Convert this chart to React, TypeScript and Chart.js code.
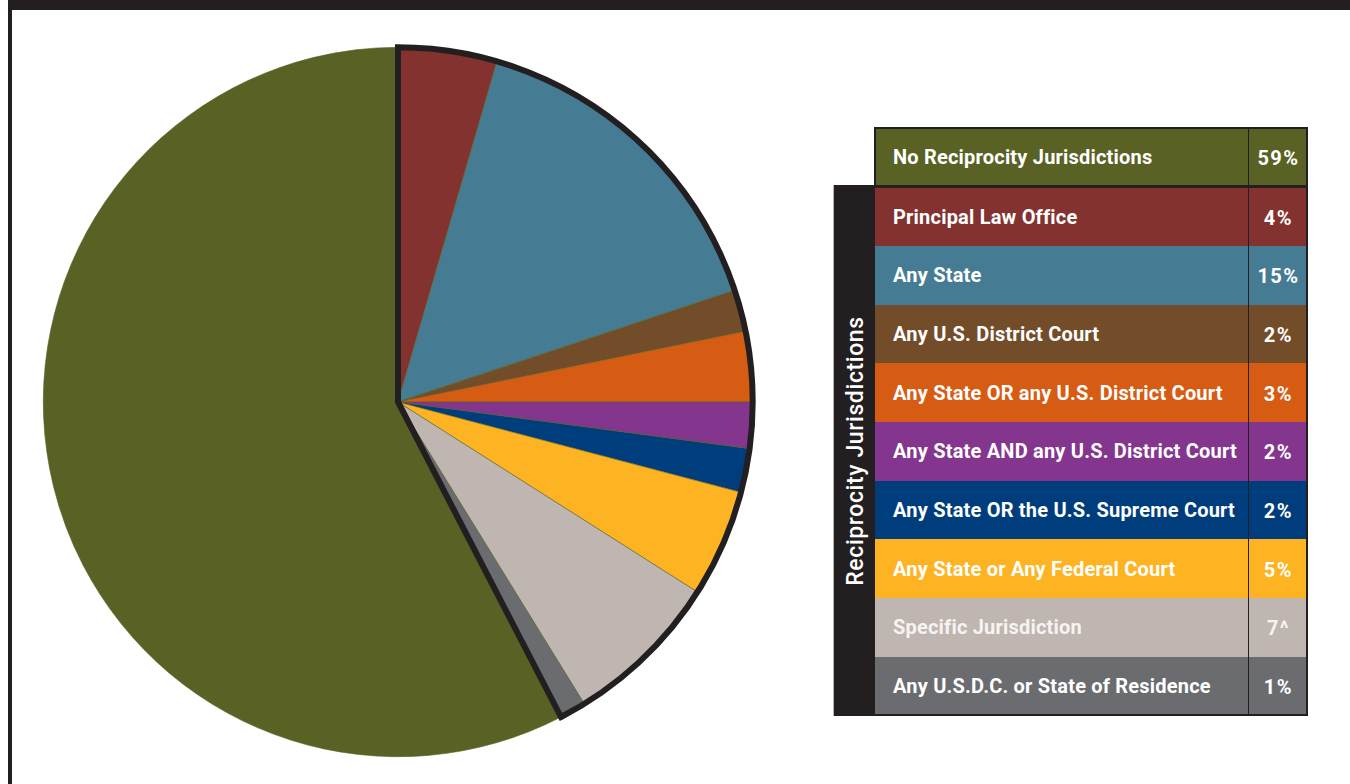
import React, { useEffect, useRef } from "react";
import { Chart, registerables } from "chart.js";

Chart.register(...registerables);

// Pie order (clockwise from 12 o'clock)
const categories = [
  "Principal Law Office",
  "Any State",
  "Any U.S. District Court",
  "Any State OR any U.S. District Court",
  "Any State AND any U.S. District Court",
  "Any State OR the U.S. Supreme Court",
  "Any State or Any Federal Court",
  "Specific Jurisdiction",
  "Any U.S.D.C. or State of Residence",
  "No Reciprocity Jurisdictions",
];
// slice shares estimated from the pie angles
const sliceValues = [4.5, 15.4, 1.9, 3.2, 2.1, 2.0, 4.9, 7.2, 1.2, 57.6];
// labels printed in the table
const pctLabels = ["4%", "15%", "2%", "3%", "2%", "2%", "5%", "7^", "1%", "59%"];
const colors = [
  "#84322f",
  "#467b94",
  "#734c29",
  "#d65c14",
  "#84368f",
  "#003d7c",
  "#feb322",
  "#bfb5b1",
  "#6b6c70",
  "#5a6124",
];
const textColors = ["#fff", "#fff", "#fff", "#fff", "#fff", "#fff", "#fff", "#f6f3f1", "#fff", "#fff"];
const groupTitle = "Reciprocity Jurisdictions";
const groupCount = 9; // first 9 slices are reciprocity jurisdictions

const DARK = "#231f20";

const outlinePlugin = {
  id: "groupOutline",
  afterDatasetsDraw(chart: any) {
    const meta = chart.getDatasetMeta(0);
    const first = meta.data[0] as any;
    const last = meta.data[groupCount - 1] as any;
    if (!first || !last) return;
    const ctx = chart.ctx;
    const { x, y, outerRadius } = first;
    ctx.save();
    ctx.beginPath();
    ctx.moveTo(x, y);
    ctx.arc(x, y, outerRadius, first.startAngle, last.endAngle);
    ctx.closePath();
    ctx.lineWidth = 6;
    ctx.lineJoin = "miter";
    ctx.strokeStyle = DARK;
    ctx.stroke();
    ctx.restore();
  },
};

function PieChart() {
  const ref = useRef<HTMLCanvasElement | null>(null);
  useEffect(() => {
    if (!ref.current) return;
    const chart = new Chart(ref.current, {
      type: "pie",
      data: {
        labels: categories,
        datasets: [
          {
            data: sliceValues,
            backgroundColor: colors,
            borderColor: "#5a6124",
            borderWidth: 0.6,
          },
        ],
      },
      options: {
        animation: false,
        responsive: false,
        maintainAspectRatio: false,
        layout: { padding: 4 },
        plugins: {
          legend: { display: false },
          tooltip: { enabled: false },
        },
      },
      plugins: [outlinePlugin],
    });
    return () => chart.destroy();
  }, []);
  return (
    <canvas
      ref={ref}
      width={718}
      height={718}
      style={{ position: "absolute", left: 39, top: 43, width: 718, height: 718 }}
    />
  );
}

const FONT = "Roboto, 'Liberation Sans', sans-serif";
const ROW_H = 58.7;
const TABLE_LEFT = 875;
const LABEL_W = 373;
const PCT_W = 59;

function Row({ i, top }: { i: number; top: number }) {
  return (
    <div
      style={{
        position: "absolute",
        left: TABLE_LEFT,
        top,
        width: LABEL_W + PCT_W,
        height: ROW_H,
        background: colors[i],
        color: textColors[i],
        fontFamily: FONT,
        fontWeight: 700,
        fontSize: 20,
        display: "flex",
        alignItems: "center",
      }}
    >
      <div
        style={{
          width: LABEL_W,
          paddingLeft: 18,
          boxSizing: "border-box",
          whiteSpace: "nowrap",
          letterSpacing: 0.2,
        }}
      >
        {categories[i]}
      </div>
      <div
        style={{
          width: PCT_W,
          height: "100%",
          borderLeft: `1.5px solid ${DARK}`,
          boxSizing: "border-box",
          display: "flex",
          alignItems: "center",
          justifyContent: "center",
          letterSpacing: 1.5,
          paddingLeft: 1,
          paddingTop: 2,
        }}
      >
        {pctLabels[i]}
      </div>
    </div>
  );
}

export default function App() {
  const noRecIdx = categories.length - 1;
  const topRow = 128;
  const groupTop = topRow + ROW_H + 0.5;
  const rows = [];
  for (let i = 0; i < groupCount; i++) {
    rows.push(<Row key={i} i={i} top={groupTop + i * ROW_H} />);
  }
  const groupBottom = groupTop + groupCount * ROW_H;
  return (
    <div style={{ position: "absolute", left: 0, top: 0, width: 1350, height: 784, overflow: "hidden", background: "#fff" }}>
      <div
        style={{
          position: "absolute",
          left: 8,
          top: 0,
          width: 1342,
          height: 784,
          borderTop: `10px solid ${DARK}`,
          borderLeft: `4px solid ${DARK}`,
          boxSizing: "border-box",
        }}
      />
      <PieChart />
      {/* vertical group band */}
      <div
        style={{
          position: "absolute",
          left: 833,
          top: groupTop - 2,
          width: 42,
          height: groupBottom - groupTop + 3,
          background: DARK,
          borderLeft: "1px solid #b8b4b4",
          boxSizing: "border-box",
        }}
      >
        <div
          style={{
            position: "absolute",
            left: "50%",
            top: "50%",
            transform: "translate(-50%, -50%) rotate(-90deg)",
            color: "#fff",
            fontFamily: FONT,
            fontWeight: 500,
            fontSize: 23,
            whiteSpace: "nowrap",
            letterSpacing: 0.6,
          }}
        >
          {groupTitle}
        </div>
      </div>
      <Row i={noRecIdx} top={topRow} />
      {rows}
      {/* table borders */}
      <div
        style={{
          position: "absolute",
          left: TABLE_LEFT - 1,
          top: topRow - 1,
          width: LABEL_W + PCT_W + 2,
          height: ROW_H + 2,
          border: `2px solid ${DARK}`,
          boxSizing: "border-box",
        }}
      />
      <div
        style={{
          position: "absolute",
          left: TABLE_LEFT - 1,
          top: groupTop - 2,
          width: LABEL_W + PCT_W + 2,
          height: groupBottom - groupTop + 3,
          borderTop: `2px solid ${DARK}`,
          borderRight: `2px solid ${DARK}`,
          borderBottom: `2px solid ${DARK}`,
          boxSizing: "border-box",
        }}
      />
    </div>
  );
}
